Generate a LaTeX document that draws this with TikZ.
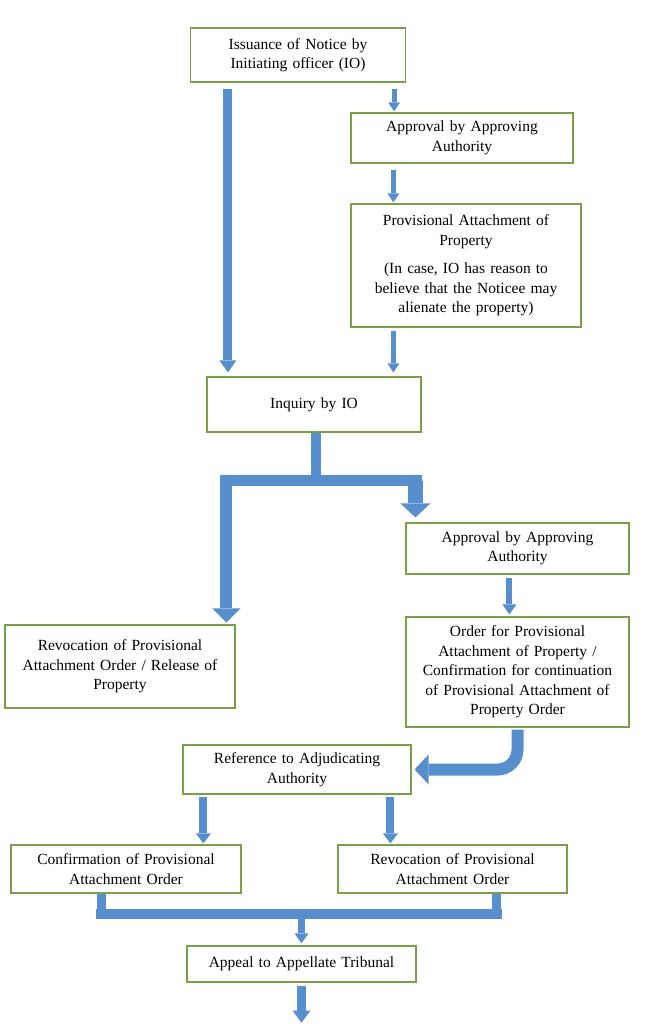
\documentclass[tikz,border=0pt]{standalone}
\usepackage{fontspec}
\setmainfont{Liberation Serif}
\usetikzlibrary{arrows.meta,calc}
\definecolor{boxgreen}{RGB}{119,160,71}
\definecolor{flowblue}{RGB}{87,143,206}

\begin{document}
\begin{tikzpicture}
        [
            x=1pt, y=-1pt,
            box/.style={draw=boxgreen, line width=1.2pt, fill=white, align=center, inner xsep=6pt, inner ysep=3pt,
                font=\fontsize{15.5}{19.5}\selectfont},
            shaft/.style={draw=flowblue, line width=#1},
            arr/.style n args={3}{draw=flowblue, line width=#1, -{Triangle[width=#2, length=#3, line width=0pt]}}
        ]
        \useasboundingbox (0,0) rectangle (659,1024);

        \node[box, text width=203pt, minimum height=54pt] (iss) at (298,55) {Issuance of Notice by\\Initiating officer (IO)};
        \node[box, text width=210pt, minimum height=50pt] (app1) at (462,138) {Approval by Approving\\Authority};
        \node[box, text width=218pt, minimum height=123pt] (prov) at (466,265.5) {Provisional Attachment of\\Property\\[9pt](In case, IO has reason to\\believe that the Noticee may\\alienate the property)};
        \node[box, text width=202pt, minimum height=55pt] (inq) at (314,404.5) {Inquiry by IO};
        \node[box, text width=211pt, minimum height=51pt] (app2) at (517.5,548.5) {Approval by Approving\\Authority};
        \node[box, text width=218pt, minimum height=83pt] (rel) at (120,666.5) {Revocation of Provisional\\Attachment Order / Release of\\Property};
        \node[box, text width=211pt, minimum height=110pt] (ord) at (517.5,672) {Order for Provisional\\Attachment of Property /\\Confirmation for continuation\\of Provisional Attachment of\\Property Order};
        \node[box, text width=216pt, minimum height=49pt] (ref) at (297,769.5) {Reference to Adjudicating\\Authority};
        \node[box, text width=218pt, minimum height=48pt] (conf) at (126,869) {Confirmation of Provisional\\Attachment Order};
        \node[box, text width=217pt, minimum height=48pt] (rev) at (452.5,869) {Revocation of Provisional\\Attachment Order};
        \node[box, text width=217pt, minimum height=36pt] (app) at (301.5,964) {Appeal to Appellate Tribunal};

        \draw[arr={9pt}{17pt}{12pt}] ($(iss.south west)+(38,6)$) -- ($(iss.south west |- inq.north)+(38,-4)$);
        \draw[arr={5pt}{12pt}{9pt}] ($(iss.south east)+(-12,6)$) -- ($(iss.south east |- app1.north)+(-12,-1)$);
        \draw[arr={5pt}{12pt}{9pt}] ($(app1.south west)+(43,6)$) -- ($(app1.south west |- prov.north)+(43,-1)$);
        \draw[arr={5pt}{12pt}{9pt}] ($(prov.south west)+(43,3)$) -- ($(prov.south west |- inq.north)+(43,-4)$);

        \coordinate (split) at ($(inq.south)+(2,48)$);
        \draw[shaft=10pt] ($(inq.south)+(2,0)$) -- (split);
        \draw[shaft=11pt] ($(rel.north west |- split)+(222,0)$) -- ($(app2.north west |- split)+(17,0)$);
        \draw[arr={12pt}{28pt}{14pt}] ($(rel.north west |- split)+(222,-5.5)$) -- ($(rel.north west)+(222,-2)$);
        \draw[arr={15pt}{30pt}{14pt}] ($(app2.north west |- split)+(10,0)$) -- ($(app2.north west)+(10,-5)$);

        \draw[arr={6pt}{14pt}{10pt}] ($(app2.south west)+(104,3)$) -- ($(app2.south west |- ord.north)+(104,-2)$);
        \draw[arr={12pt}{30pt}{14pt}, rounded corners=20pt] ($(ord.south)+(0,2)$) |- ($(ref.east)+(3,0)$);

        \draw[arr={8pt}{15pt}{10pt}] ($(ref.south west)+(21,2)$) -- ($(ref.south west |- conf.north)+(21,-1)$);
        \draw[arr={8pt}{15pt}{10pt}] ($(ref.south west)+(208,2)$) -- ($(ref.south west |- rev.north)+(208,-1)$);

        \coordinate (join) at ($(conf.south west -| app.north)+(0,20)$);
        \draw[shaft=9pt] ($(conf.south west)+(91,0)$) -- ($(conf.south west)+(91,20)$);
        \draw[shaft=9pt] ($(rev.south east)+(-71,0)$) -- ($(rev.south east)+(-71,20)$);
        \draw[shaft=10pt] ($(conf.south west)+(86,20)$) -- ($(rev.south east)+(-66,20)$);
        \draw[arr={7pt}{14pt}{10pt}] ($(join)+(0,5)$) -- ($(app.north)+(0,-2)$);
        \draw[arr={9pt}{18pt}{12pt}] ($(app.south)+(0,3)$) -- ($(app.south)+(0,40)$);
    \end{tikzpicture}
\end{document}
